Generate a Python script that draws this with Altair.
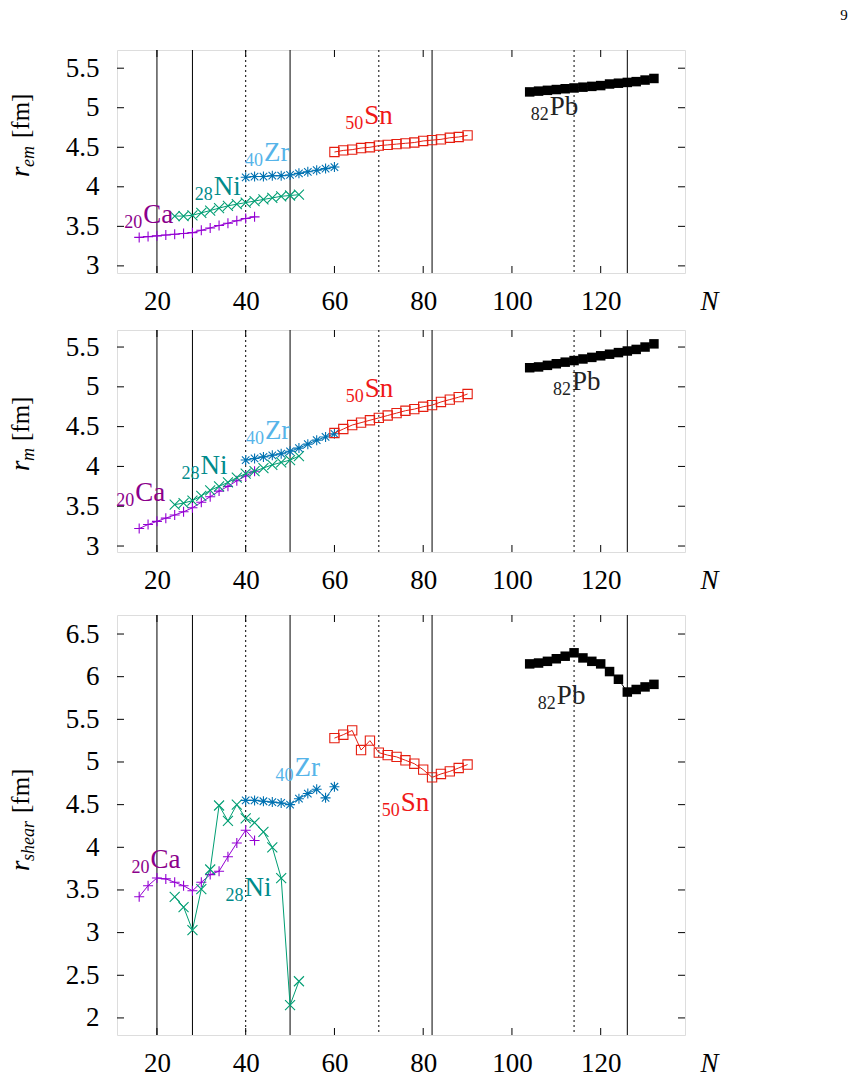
import altair as alt
import pandas as pd

# ---------------- data ----------------
N_CA = [16, 18, 20, 22, 24, 26, 28, 30, 32, 34, 36, 38, 40, 42]
N_NI = [24, 26, 28, 30, 32, 34, 36, 38, 40, 42, 44, 46, 48, 50, 52]
N_ZR = [40, 42, 44, 46, 48, 50, 52, 54, 56, 58, 60]
N_SN = [60, 62, 64, 66, 68, 70, 72, 74, 76, 78, 80, 82, 84, 86, 88, 90]
N_PB = [104, 106, 108, 110, 112, 114, 116, 118, 120, 122, 124, 126, 128, 130, 132]

REM_CA = [3.36, 3.37, 3.38, 3.39, 3.40, 3.41, 3.42, 3.45, 3.48, 3.51, 3.54, 3.57, 3.60, 3.62]
REM_NI = [3.63, 3.63, 3.64, 3.67, 3.70, 3.73, 3.76, 3.78, 3.80, 3.82, 3.84, 3.86, 3.88, 3.89, 3.90]
REM_ZR = [4.12, 4.13, 4.13, 4.14, 4.14, 4.15, 4.17, 4.19, 4.21, 4.23, 4.25]
REM_SN = [4.44, 4.46, 4.47, 4.49, 4.50, 4.52, 4.53, 4.54, 4.55, 4.56, 4.58, 4.59, 4.60, 4.62, 4.63, 4.65]
REM_PB = [5.20, 5.21, 5.22, 5.23, 5.24, 5.25, 5.26, 5.27, 5.28, 5.30, 5.31, 5.32, 5.33, 5.35, 5.37]

RM_CA = [3.22, 3.27, 3.31, 3.35, 3.39, 3.43, 3.48, 3.55, 3.62, 3.69, 3.75, 3.82, 3.88, 3.94]
RM_NI = [3.52, 3.54, 3.57, 3.63, 3.70, 3.75, 3.80, 3.86, 3.91, 3.94, 3.98, 4.02, 4.05, 4.08, 4.13]
RM_ZR = [4.08, 4.10, 4.12, 4.14, 4.16, 4.19, 4.23, 4.28, 4.33, 4.37, 4.41]
RM_SN = [4.42, 4.47, 4.52, 4.55, 4.58, 4.61, 4.64, 4.67, 4.70, 4.72, 4.75, 4.77, 4.81, 4.84, 4.87, 4.91]
RM_PB = [5.24, 5.25, 5.27, 5.29, 5.31, 5.33, 5.35, 5.37, 5.39, 5.41, 5.43, 5.45, 5.47, 5.50, 5.54]

RSH_CA = [3.42, 3.55, 3.64, 3.63, 3.59, 3.55, 3.49, 3.59, 3.68, 3.72, 3.89, 4.05, 4.20, 4.08]
RSH_NI = [3.42, 3.30, 3.03, 3.51, 3.74, 4.49, 4.31, 4.50, 4.34, 4.29, 4.18, 4.00, 3.64, 2.15, 2.43]
RSH_ZR = [4.55, 4.55, 4.54, 4.53, 4.52, 4.50, 4.57, 4.63, 4.68, 4.58, 4.71]
RSH_SN = [5.28, 5.32, 5.37, 5.14, 5.25, 5.11, 5.08, 5.06, 5.02, 4.98, 4.91, 4.82, 4.86, 4.89, 4.93, 4.97]
RSH_PB = [6.15, 6.16, 6.18, 6.21, 6.24, 6.28, 6.22, 6.18, 6.15, 6.06, 5.97, 5.82, 5.85, 5.88, 5.91]

LAB_SYM = ["Ca", "Ni", "Zr", "Sn", "Pb"]
LAB_Z = ["20", "28", "40", "50", "82"]
LAB_REM_N = [16.7, 32.6, 43.9, 66.5, 108.3]
LAB_REM_V = [3.54, 3.90, 4.33, 4.79, 4.91]
LAB_RM_N = [14.9, 29.6, 44.1, 66.6, 113.3]
LAB_RM_V = [3.57, 3.90, 4.35, 4.87, 4.96]
LAB_RSH_N = [18.3, 39.5, 50.8, 74.7, 109.9]
LAB_RSH_V = [3.76, 3.43, 4.84, 4.43, 5.68]

X_TICKS = [20, 40, 60, 80, 100, 120]
Y_TICKS_R = [3, 3.5, 4, 4.5, 5, 5.5]
Y_TICKS_SH = [2, 2.5, 3, 3.5, 4, 4.5, 5, 5.5, 6, 6.5]
SHELL_SOLID = [20, 28, 50, 82, 126]
SHELL_DOTTED = [40, 70, 114]

# ---------------- style ----------------
F = "Liberation Serif"
W = 568
LINE_COL = ["#9400d3", "#009e73", "#0072b2", "#e51e10", "#000000"]
LAB_COL = ["#8b008b", "#008b8b", "#56b4e9", "#f01818", "#222222"]
PLUS = "M-1,0L1,0M0,-1L0,1"
CROSS = "M-1,-1L1,1M-1,1L1,-1"
STAR = "M-1,0L1,0M0,-1L0,1M-0.75,-0.75L0.75,0.75M-0.75,0.75L0.75,-0.75"

NS = [N_CA, N_NI, N_ZR, N_SN, N_PB]


def panel(vals, ydom, yticks, h, lab_n, lab_v, sub, title_pos, top=False):
    xs = alt.Scale(domain=[11, 139], nice=False, zero=False)
    ys = alt.Scale(domain=ydom, nice=False, zero=False)
    ax_x = alt.Axis(values=X_TICKS, ticks=False, tickSize=0, domain=False, grid=False,
                    labelFont=F, labelFontSize=27, labelPadding=28, labelBaseline="middle",
                    labelColor="black", title="N", titleFont=F, titleFontSize=27,
                    titleFontStyle="italic", titleFontWeight="normal", titleColor="black",
                    titleX=592, titleY=28, titleAlign="center", titleBaseline="middle")
    ax_y = alt.Axis(values=yticks, ticks=False, tickSize=0, domain=False, grid=False,
                    labelFont=F, labelFontSize=27, labelPadding=18, labelColor="black",
                    format="~g", title=None)
    X = lambda: alt.X("N:Q", scale=xs, axis=ax_x)
    Y = lambda: alt.Y("V:Q", scale=ys, axis=ax_y)

    layers = []
    layers.append(alt.Chart(pd.DataFrame({"N": SHELL_SOLID})).mark_rule(
        color="black", strokeWidth=1).encode(x=X()))
    layers.append(alt.Chart(pd.DataFrame({"N": SHELL_DOTTED})).mark_rule(
        color="black", strokeWidth=1, strokeDash=[2, 3]).encode(x=X()))
    xt = pd.DataFrame({"N": X_TICKS})
    layers.append(alt.Chart(xt).mark_rule(color="black", strokeWidth=1).encode(
        x=X(), y=alt.value(h), y2=alt.value(h - 7)))
    layers.append(alt.Chart(xt).mark_rule(color="black", strokeWidth=1).encode(
        x=X(), y=alt.value(0), y2=alt.value(7)))
    yt = pd.DataFrame({"V": yticks})
    layers.append(alt.Chart(yt).mark_rule(color="black", strokeWidth=1).encode(
        y=Y(), x=alt.value(0), x2=alt.value(7)))
    layers.append(alt.Chart(yt).mark_rule(color="black", strokeWidth=1).encode(
        y=Y(), x=alt.value(W - 7), x2=alt.value(W)))

    shapes = [PLUS, CROSS, STAR, "square", "square"]
    sizes = [100, 100, 100, 86, 90]
    for i in range(5):
        df = pd.DataFrame({"N": NS[i], "V": vals[i]})
        layers.append(alt.Chart(df).mark_line(color=LINE_COL[i], strokeWidth=1).encode(
            x=X(), y=Y()))
        filled = i == 4
        layers.append(alt.Chart(df).mark_point(
            shape=shapes[i], size=sizes[i], filled=filled, color=LINE_COL[i],
            strokeWidth=1.1, opacity=1).encode(x=X(), y=Y()))

    for i in range(5):
        ldf = pd.DataFrame({"N": [lab_n[i]], "V": [lab_v[i]]})
        layers.append(alt.Chart(ldf).mark_text(
            text=LAB_Z[i], font=F, fontSize=18, align="right", baseline="alphabetic",
            dy=5, color=LAB_COL[i]).encode(x=X(), y=Y()))
        layers.append(alt.Chart(ldf).mark_text(
            text=LAB_SYM[i], font=F, fontSize=27, align="left", baseline="alphabetic",
            dx=1, color=LAB_COL[i]).encode(x=X(), y=Y()))

    one = pd.DataFrame({"a": [0]})
    r_y, s_y, fm_y = title_pos
    layers.append(alt.Chart(one).mark_text(
        text="r", font=F, fontSize=27, fontStyle="italic", angle=270, align="left",
        baseline="alphabetic", color="black").encode(x=alt.value(-88), y=alt.value(r_y)))
    layers.append(alt.Chart(one).mark_text(
        text=sub, font=F, fontSize=18, fontStyle="italic", angle=270, align="left",
        baseline="alphabetic", color="black").encode(x=alt.value(-83), y=alt.value(s_y)))
    layers.append(alt.Chart(one).mark_text(
        text="[fm]", font=F, fontSize=25, angle=270, align="left",
        baseline="alphabetic", color="black").encode(x=alt.value(-88), y=alt.value(fm_y)))

    if top:
        layers.append(alt.Chart(one).mark_rule(strokeOpacity=0, strokeWidth=1).encode(
            x=alt.value(-116), x2=alt.value(-116), y=alt.value(-49), y2=alt.value(-48)))
        layers.append(alt.Chart(one).mark_text(
            text="9", font=F, fontSize=15, align="center", baseline="middle",
            color="black").encode(x=alt.value(727), y=alt.value(-35)))

    return alt.layer(*layers).properties(width=W, height=h)


p1 = panel([REM_CA, REM_NI, REM_ZR, REM_SN, REM_PB], [2.91, 5.73], Y_TICKS_R, 223,
           LAB_REM_N, LAB_REM_V, "em", (127, 117, 88), top=True)
p2 = panel([RM_CA, RM_NI, RM_ZR, RM_SN, RM_PB], [2.925, 5.714], Y_TICKS_R, 222,
           LAB_RM_N, LAB_RM_V, "m", (141, 131, 111))
p3 = panel([RSH_CA, RSH_NI, RSH_ZR, RSH_SN, RSH_PB], [1.8, 6.723], Y_TICKS_SH, 420,
           LAB_RSH_N, LAB_RSH_V, "shear", (256, 246, 198))

lower = alt.vconcat(p2, p3, spacing=63, bounds="flush")
chart = alt.vconcat(p1, lower, spacing=57, bounds="flush").properties(
    padding=0
).configure_view(stroke="black", strokeWidth=1.5).configure(background="white")

chart.save("out.html", embed_options={"renderer": "svg", "actions": False})
